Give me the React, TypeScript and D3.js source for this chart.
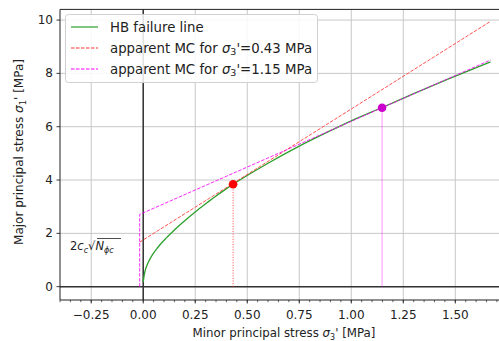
import React from "react";
import * as d3 from "d3";

const W = 499;
const H = 341;

const xTicks = [-0.25, 0, 0.25, 0.5, 0.75, 1.0, 1.25, 1.5];
const yTicks = [0, 2, 4, 6, 8, 10];

// HB failure line
const hbX = [0, 0.003, 0.008, 0.016, 0.024, 0.036, 0.048, 0.068, 0.088, 0.11, 0.136, 0.16, 0.184, 0.215, 0.248, 0.28, 0.312, 0.35, 0.39, 0.432, 0.6, 0.75, 0.9, 1.0, 1.148, 1.3, 1.5, 1.669];
const hbY = [0.17, 0.35, 0.56, 0.76, 0.91, 1.09, 1.24, 1.45, 1.64, 1.82, 2.02, 2.2, 2.37, 2.58, 2.79, 2.99, 3.18, 3.4, 3.62, 3.84, 4.63, 5.27, 5.85, 6.22, 6.72, 7.24, 7.9, 8.43];

// apparent MC lines
const redX = [-0.017, 1.669];
const redY = [1.67, 9.95];
const magX = [-0.017, -0.017, 1.669];
const magY = [0, 2.71, 8.5];

// points
const s3Points = [0.432, 1.148];
const s1Points = [3.84, 6.71];

const legendLabels = ["HB failure line", "apparent MC for ", "apparent MC for "];
const legendValues = ["", "=0.43 MPa", "=1.15 MPa"];

const GREEN = "#2ca02c";
const RED = "#ff3333";
const MAG = "#ff00ff";
const FONT = "DejaVu Sans, sans-serif";

export default function App() {
  const x = d3.scaleLinear().domain([-0.4, 1.71]).range([60, 499]);
  const y = d3.scaleLinear().domain([-0.5, 10.4]).range([300, 9.4]);
  const hb = d3
    .line<[number, number]>()
    .x((d) => x(d[0]))
    .y((d) => y(d[1]))
    .curve(d3.curveMonotoneX)(hbX.map((v, i) => [v, hbY[i]] as [number, number]))!;
  const lineL = d3.line<[number, number]>().x((d) => x(d[0])).y((d) => y(d[1]));
  const red = lineL(redX.map((v, i) => [v, redY[i]] as [number, number]))!;
  const mag = lineL(magX.map((v, i) => [v, magY[i]] as [number, number]))!;
  const minor = d3.range(-0.4, 1.7001, 0.05);
  const legendColors = [GREEN, RED, MAG];
  const legendDash = [undefined, "3.5,1.5", "3.5,1.5"];

  return (
    <svg width={W} height={H} style={{ position: "absolute", left: 0, top: 0, background: "#fff" }} fontFamily={FONT}>
      {/* grid */}
      {xTicks.map((t) => (
        <line key={"gx" + t} x1={x(t)} x2={x(t)} y1={y(10.4)} y2={y(-0.5)} stroke="#c8c8c8" strokeWidth={1} />
      ))}
      {yTicks.map((t) => (
        <line key={"gy" + t} x1={60} x2={W} y1={y(t)} y2={y(t)} stroke="#c8c8c8" strokeWidth={1} />
      ))}
      {/* zero lines */}
      <line x1={60} x2={W} y1={y(0)} y2={y(0)} stroke="#333" strokeWidth={1.5} />
      <line x1={x(0)} x2={x(0)} y1={y(10.4)} y2={y(-0.5)} stroke="#333" strokeWidth={1.5} />

      {/* vertical indicators */}
      <line x1={x(s3Points[0])} x2={x(s3Points[0])} y1={y(0)} y2={y(s1Points[0])} stroke={RED} strokeWidth={0.9} strokeDasharray="1,1.6" />
      <line x1={x(s3Points[1])} x2={x(s3Points[1])} y1={y(0)} y2={y(s1Points[1])} stroke={MAG} strokeOpacity={0.35} strokeWidth={1.2} />

      {/* curves */}
      <path d={hb} fill="none" stroke={GREEN} strokeWidth={1.3} />
      <path d={red} fill="none" stroke={RED} strokeOpacity={0.85} strokeWidth={1} strokeDasharray="3.5,1.5" />
      <path d={mag} fill="none" stroke={MAG} strokeOpacity={0.85} strokeWidth={1} strokeDasharray="3.5,1.5" />

      {/* points */}
      <circle cx={x(s3Points[0])} cy={y(s1Points[0])} r={4.3} fill="#ff0000" />
      <circle cx={x(s3Points[1])} cy={y(s1Points[1])} r={4.3} fill="#cc00cc" />

      {/* formula label */}
      <g fontSize={11.5} fill="#222">
        <text x={70} y={250}>
          2<tspan fontStyle="italic">c</tspan>
          <tspan fontSize={8} dy={2.5} fontStyle="italic">c</tspan>
          <tspan dy={-2.5}>√</tspan>
          <tspan fontStyle="italic">N</tspan>
          <tspan fontSize={8} dy={2.5} fontStyle="italic">ϕc</tspan>
        </text>
        <line x1={97} x2={121} y1={238.5} y2={238.5} stroke="#222" strokeWidth={0.8} />
      </g>

      {/* spines */}
      <line x1={60} x2={60} y1={y(10.4)} y2={300} stroke="#222" strokeWidth={1} />
      <line x1={60} x2={W} y1={300} y2={300} stroke="#222" strokeWidth={1} />
      <line x1={60} x2={W} y1={y(10.4)} y2={y(10.4)} stroke="#222" strokeWidth={1} />

      {/* x ticks */}
      {minor.map((t, i) => (
        <line key={"mx" + i} x1={x(t)} x2={x(t)} y1={300} y2={302.2} stroke="#222" strokeWidth={0.7} />
      ))}
      {xTicks.map((t) => (
        <g key={"tx" + t}>
          <line x1={x(t)} x2={x(t)} y1={300} y2={303.5} stroke="#222" strokeWidth={0.9} />
          <text x={x(t)} y={319} textAnchor="middle" fontSize={12} fill="#222">
            {d3.format(".2f")(t).replace("-", "−")}
          </text>
        </g>
      ))}
      {/* y ticks */}
      {yTicks.map((t) => (
        <g key={"ty" + t}>
          <line x1={56.5} x2={60} y1={y(t)} y2={y(t)} stroke="#222" strokeWidth={0.9} />
          <text x={53} y={y(t) + 4} textAnchor="end" fontSize={12} fill="#222">
            {t}
          </text>
        </g>
      ))}

      {/* axis labels */}
      <text x={284} y={337} textAnchor="middle" fontSize={11.8} fill="#222">
        Minor principal stress <tspan fontStyle="italic">σ</tspan>
        <tspan fontSize={8} dy={2.5}>3</tspan>
        <tspan dy={-2.5}>' [MPa]</tspan>
      </text>
      <text transform={`translate(23,152) rotate(-90)`} textAnchor="middle" fontSize={12} fill="#222">
        Major principal stress <tspan fontStyle="italic">σ</tspan>
        <tspan fontSize={8.5} dy={2.5}>1</tspan>
        <tspan dy={-2.5}>' [MPa]</tspan>
      </text>

      {/* legend */}
      <rect x={65.5} y={14.5} width={252} height={68} rx={3} fill="#fff" fillOpacity={0.85} stroke="#d0d0d0" />
      {legendLabels.map((lab, i) => {
        const yy = 27 + i * 21;
        return (
          <g key={"lg" + i}>
            <line x1={71} x2={98} y1={yy} y2={yy} stroke={legendColors[i]} strokeWidth={1.2} strokeDasharray={legendDash[i]} />
            <text x={110} y={yy + 4.5} fontSize={13.3} fill="#222">
              {lab}
              {i > 0 && (
                <>
                  <tspan fontStyle="italic">σ</tspan>
                  <tspan fontSize={9.5} dy={2.5}>3</tspan>
                  <tspan dy={-2.5}>'{legendValues[i]}</tspan>
                </>
              )}
            </text>
          </g>
        );
      })}
    </svg>
  );
}
